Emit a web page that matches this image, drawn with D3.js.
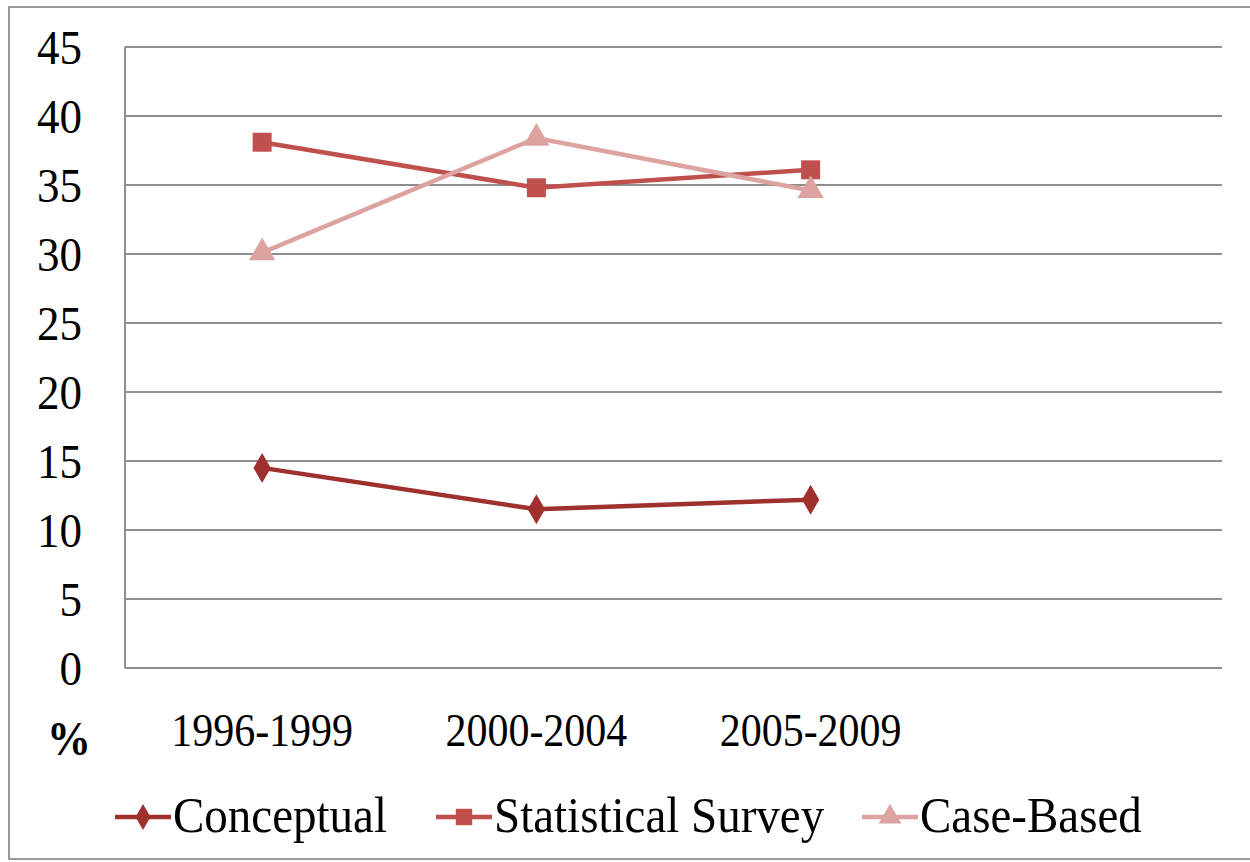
<!DOCTYPE html>
<html>
<head>
<meta charset="utf-8">
<script src="https://d3js.org/d3.v7.min.js"></script>
<style>
  body { margin: 0; background: #fff; }
</style>
</head>
<body>
<div id="chart"></div>
<script>
// data
var categories = ["1996-1999", "2000-2004", "2005-2009"];
var conceptual = [14.5, 11.5, 12.2];
var statistical = [38.1, 34.8, 36.1];
var caseBased = [30.1, 38.4, 34.6];
var yTicks = [0, 5, 10, 15, 20, 25, 30, 35, 40, 45];
var seriesNames = ["Conceptual", "Statistical Survey", "Case-Based"];

var font = "'Liberation Serif'";
var stretch = " scale(1,1.1)"; // the original text is a bit taller than wide
var width = 1250, height = 862;
var margin = {top: 47, left: 125, right: 28, bottom: 194};
var plotW = width - margin.left - margin.right,
    plotH = height - margin.top - margin.bottom;

var svg = d3.select("#chart").append("svg")
  .attr("width", width)
  .attr("height", height);

// outer frame
svg.append("rect")
  .attr("x", 9).attr("y", 7)
  .attr("width", 1250).attr("height", 852)
  .attr("fill", "none").attr("stroke", "#9a9a9a").attr("stroke-width", 2);

var g = svg.append("g")
  .attr("transform", "translate(" + margin.left + "," + margin.top + ")");

// 4 slots on the x axis, only the first three are used
var x = d3.scaleBand()
  .domain(categories)
  .range([0, plotW * 3 / 4]);

var y = d3.scaleLinear()
  .domain([0, 45])
  .range([plotH, 0]);

// gridlines
g.append("g")
  .selectAll("line")
  .data(yTicks)
  .join("line")
    .attr("x1", 0).attr("x2", plotW)
    .attr("y1", function(d) { return y(d); })
    .attr("y2", function(d) { return y(d); })
    .attr("stroke", "#8e8e8e").attr("stroke-width", 2);

// y axis line
g.append("line")
  .attr("x1", 0).attr("x2", 0)
  .attr("y1", y(45)).attr("y2", y(0))
  .attr("stroke", "#8e8e8e").attr("stroke-width", 2);

// y tick labels
g.append("g")
  .selectAll("text")
  .data(yTicks)
  .join("text")
    .attr("transform", function(d) { return "translate(-43," + y(d) + ")" + stretch; })
    .attr("dy", "0.34em")
    .attr("text-anchor", "end")
    .attr("font-size", 45)
    .style("font-family", font)
    .text(function(d) { return d; });

// category labels
g.append("g")
  .selectAll("text")
  .data(categories)
  .join("text")
    .attr("transform", function(d) {
      return "translate(" + (x(d) + x.bandwidth() / 2) + "," + (plotH + 78) + ")" + stretch;
    })
    .attr("text-anchor", "middle")
    .attr("font-size", 42)
    .style("font-family", font)
    .text(function(d) { return d; });

svg.append("text")
  .attr("transform", "translate(69,755)" + stretch)
  .attr("text-anchor", "middle")
  .attr("font-size", 44)
  .attr("font-weight", "bold")
  .style("font-family", font)
  .text("%");

var colors = ["#9e302d", "#c0504d", "#dca3a1"];
var shapes = [d3.symbolDiamond, d3.symbolSquare, d3.symbolTriangle];
var sizes = [260, 360, 300];
var allSeries = [conceptual, statistical, caseBased];

var line = d3.line()
  .x(function(d, i) { return x(categories[i]) + x.bandwidth() / 2; })
  .y(function(d) { return y(d); });

allSeries.forEach(function(vals, k) {
  g.append("path")
    .datum(vals)
    .attr("fill", "none")
    .attr("stroke", colors[k])
    .attr("stroke-width", 4.5)
    .attr("d", line);

  g.append("g")
    .selectAll("path")
    .data(vals)
    .join("path")
      .attr("transform", function(d, i) {
        return "translate(" + (x(categories[i]) + x.bandwidth() / 2) + "," + y(d) + ")";
      })
      .attr("d", d3.symbol().type(shapes[k]).size(sizes[k]))
      .attr("fill", colors[k]);
});

// legend
var legendX = [115, 436, 862];
var legend = svg.append("g")
  .selectAll("g")
  .data(seriesNames)
  .join("g")
    .attr("transform", function(d, i) { return "translate(" + legendX[i] + ",817)"; });

legend.append("line")
  .attr("x1", 0).attr("x2", 56)
  .attr("stroke", function(d, i) { return colors[i]; })
  .attr("stroke-width", 4.5);

legend.append("path")
  .attr("transform", "translate(28,0)")
  .attr("d", function(d, i) { return d3.symbol().type(shapes[i]).size(sizes[i] * 0.75)(); })
  .attr("fill", function(d, i) { return colors[i]; });

legend.append("text")
  .attr("transform", "translate(58,15)" + stretch)
  .attr("font-size", 47)
  .style("font-family", font)
  .text(function(d) { return d; });
</script>
</body>
</html>
